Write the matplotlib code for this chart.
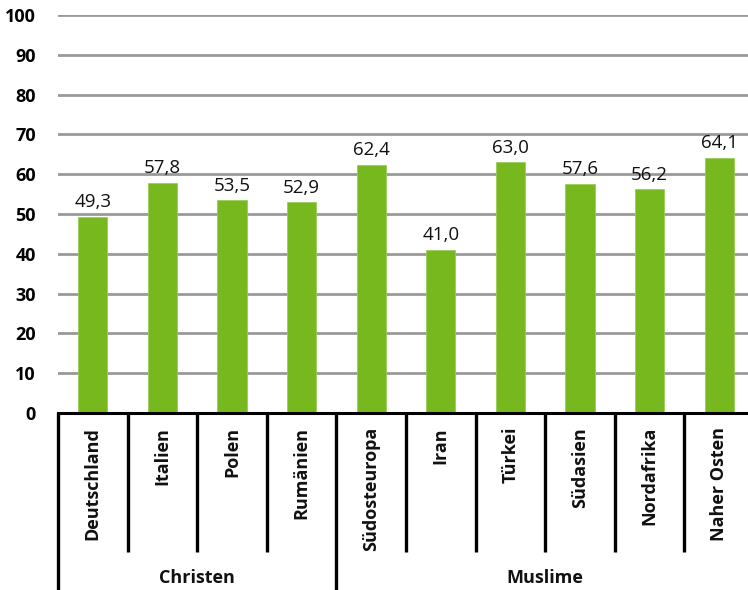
import numpy as np
import matplotlib.pyplot as plt
from matplotlib.transforms import blended_transform_factory

plt.rcParams['font.family'] = ['Open Sans', 'DejaVu Sans']

categories = ['Deutschland', 'Italien', 'Polen', 'Rumänien', 'Südosteuropa',
              'Iran', 'Türkei', 'Südasien', 'Nordafrika', 'Naher Osten']
values = [49.3, 57.8, 53.5, 52.9, 62.4, 41.0, 63.0, 57.6, 56.2, 64.1]
groups = ['Christen', 'Muslime']
group_sizes = [4, 6]
yticks = list(range(0, 101, 10))

W, H = 748, 590
fig = plt.figure(figsize=(W / 100, H / 100), dpi=100)
ax_left, ax_right = 58 / W, 754 / W
ax_bottom, ax_top = 1 - 413 / H, 1 - 15 / H
ax = fig.add_axes([ax_left, ax_bottom, ax_right - ax_left, ax_top - ax_bottom])

x = np.arange(len(categories))
bars = ax.bar(x, values, width=0.42, color='#77B81E', edgecolor='#9ACD5A',
              linewidth=0.6, zorder=3)

for xi, v in zip(x, values):
    ax.annotate(f'{v:.1f}'.replace('.', ','), (xi, v), xytext=(0, 4),
                textcoords='offset points', ha='center', va='bottom',
                fontsize=13.5, color='#111111')

ax.set_xlim(-0.5, len(categories) - 0.5)
ax.set_ylim(0, 100)
ax.set_yticks(yticks)
ax.set_yticklabels([str(t) for t in yticks], fontsize=13, fontweight='bold')
ax.tick_params(axis='y', length=0, pad=16)
ax.set_xticks([])
ax.yaxis.grid(True, color='#999999', linewidth=2, zorder=0)
ax.set_axisbelow(True)
for s in ['top', 'right', 'left']:
    ax.spines[s].set_visible(False)
ax.spines['bottom'].set_linewidth(2.2)
ax.spines['bottom'].set_zorder(4)

trans = blended_transform_factory(ax.transData, ax.transAxes)
inner_bottom = -(552 - 413) / 398
outer_bottom = -(600 - 413) / 398

# category labels
for xi, name in zip(x, categories):
    ax.text(xi, -14 / 398, name, transform=trans, rotation=90, ha='center',
            va='top', fontsize=13, fontweight='bold', color='#111111')

# separators
boundaries = np.arange(len(categories) + 1) - 0.5
group_edges = np.concatenate([[0], np.cumsum(group_sizes)]) - 0.5
for b in boundaries:
    bottom = outer_bottom if np.isclose(group_edges, b).any() else inner_bottom
    ax.plot([b, b], [0, bottom], transform=trans, color='black',
            linewidth=2.4, clip_on=False, solid_capstyle='butt')

# group labels
for g, lo, hi in zip(groups, group_edges[:-1], group_edges[1:]):
    ax.text((lo + hi) / 2, -(578 - 413) / 398, g, transform=trans,
            ha='center', va='center', fontsize=13, fontweight='bold',
            color='#111111')

fig.savefig('out.png', dpi=100)
